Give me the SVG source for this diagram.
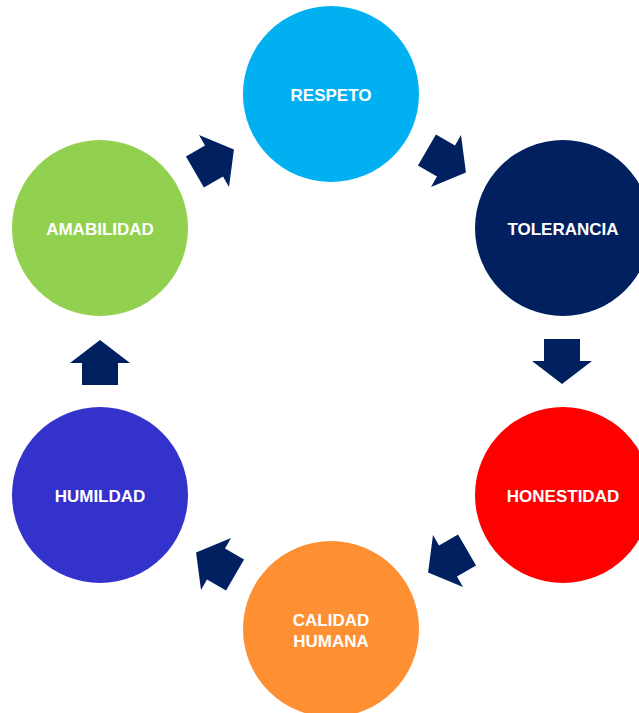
<svg xmlns="http://www.w3.org/2000/svg" width="639" height="713" viewBox="0 0 639 713">
<defs>
<style>
.lbl{font-family:"Liberation Sans",Arial,sans-serif;font-weight:bold;font-size:17px;fill:#ffffff;text-anchor:middle}
.arr{fill:#002060}
</style>
<path id="arrow" d="M-22,-18 H0 V-30 L23,0 L0,30 V18 H-22 Z"/>
</defs>
<rect width="639" height="713" fill="#ffffff"/>
<g id="connectors">
<use href="#arrow" class="arr" transform="translate(214,161) rotate(-30)"/>
<use href="#arrow" class="arr" transform="translate(446,161) rotate(30)"/>
<use href="#arrow" class="arr" transform="translate(562,361) rotate(90)"/>
<use href="#arrow" class="arr" transform="translate(448,561) rotate(150)"/>
<use href="#arrow" class="arr" transform="translate(216,564) rotate(210)"/>
<use href="#arrow" class="arr" transform="translate(100,363) rotate(270)"/>
</g>
<g id="respeto">
<circle cx="331" cy="94" r="88" fill="#00B0F0"/>
<text class="lbl" x="331" y="100.5">RESPETO</text>
</g>
<g id="tolerancia">
<circle cx="563" cy="228" r="88" fill="#002060"/>
<text class="lbl" x="563" y="234.5">TOLERANCIA</text>
</g>
<g id="honestidad">
<circle cx="563" cy="495" r="88" fill="#FF0000"/>
<text class="lbl" x="563" y="501.5">HONESTIDAD</text>
</g>
<g id="calidad-humana">
<circle cx="331" cy="629" r="88" fill="#FF8F33"/>
<text class="lbl" x="331" y="626">CALIDAD</text>
<text class="lbl" x="331" y="647">HUMANA</text>
</g>
<g id="humildad">
<circle cx="100" cy="495" r="88" fill="#3333CC"/>
<text class="lbl" x="100" y="501.5">HUMILDAD</text>
</g>
<g id="amabilidad">
<circle cx="100" cy="228" r="88" fill="#92D050"/>
<text class="lbl" x="100" y="234.5">AMABILIDAD</text>
</g>
</svg>
